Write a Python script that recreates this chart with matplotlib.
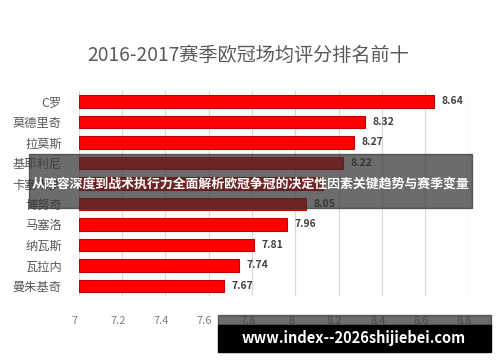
import matplotlib
matplotlib.use("Agg")
import matplotlib.pyplot as plt
from matplotlib.patches import Rectangle
from matplotlib.transforms import ScaledTranslation

plt.rcParams["font.family"] = ["Noto Sans CJK SC", "DejaVu Sans"]

players = ["C罗", "莫德里奇", "拉莫斯", "基耶利尼", "卡塞米罗",
           "博努奇", "马塞洛", "纳瓦斯", "瓦拉内", "曼朱基奇"]
ratings = [8.64, 8.32, 8.27, 8.22, 8.13, 8.05, 7.96, 7.81, 7.74, 7.67]
xticks = [7, 7.2, 7.4, 7.6, 7.8, 8, 8.2, 8.4, 8.6, 8.8]
xticklabels = ["7", "7.2", "7.4", "7.6", "7.8", "8", "8.2", "8.4", "8.6", "8.8"]

fig = plt.figure(figsize=(5.0, 3.62), dpi=100)
ax = fig.add_axes([78.5 / 500, 0.182, 390 / 500, 0.566])

ypos = list(range(len(players)))
ax.barh(ypos, [r - 7 for r in ratings], left=7, height=0.6,
        color="#ff0000", edgecolor="#c00000", linewidth=0.8, zorder=3)
for y, r in zip(ypos, ratings):
    ax.text(r + 0.035, y, f"{r:.2f}", va="center", ha="left",
            fontsize=7.5, fontweight="bold", color="#404040", zorder=4)

ax.set_xlim(7, 8.8)
ax.set_ylim(len(players) - 0.5, -0.5)
ax.set_xticks(xticks)
ax.set_xticklabels(xticklabels)
ax.set_yticks(ypos)
ax.set_yticklabels(players)
ax.tick_params(axis="x", length=0, pad=14, labelsize=8, labelcolor="#808080")
ax.tick_params(axis="y", length=0, pad=12, labelsize=8.8, labelcolor="#595959")
shift = ScaledTranslation(-4 / 100, 0, fig.dpi_scale_trans)
for lab in ax.get_xticklabels():
    lab.set_transform(lab.get_transform() + shift)
ax.grid(axis="x", color="#d9d9d9", lw=0.9, zorder=0)
for s in ax.spines.values():
    s.set_visible(False)

fig.text(248 / 500, 0.848, "2016-2017赛季欧冠场均评分排名前十", ha="center",
         va="center", fontsize=13.8, color="#595959")

# overlay banners
fig.patches.append(Rectangle((29 / 500, 1 - 208 / 362), 443 / 500, 54 / 362,
                             transform=fig.transFigure, color="#333333",
                             alpha=0.72, zorder=10))
fig.text(250.5 / 500, 1 - 184 / 362,
         "从阵容深度到战术执行力全面解析欧冠争冠的决定性因素关键趋势与赛季变量",
         ha="center", va="center", fontsize=9.3, fontweight="bold",
         color="white", zorder=11)
fig.patches.append(Rectangle((218 / 500, 1 - 325 / 362), 273 / 500, 10 / 362,
                             transform=fig.transFigure, color="#333333",
                             alpha=0.72, zorder=10))
fig.patches.append(Rectangle((218 / 500, 1 - 352 / 362), 273 / 500, 27 / 362,
                             transform=fig.transFigure, color="black", zorder=10))
fig.text(354 / 500, 1 - 338 / 362, "www.index--2026shijiebei.com",
         ha="center", va="center", fontsize=10.5, fontweight="bold",
         color="white", zorder=11)

fig.savefig("out.png", dpi=100, facecolor="white")
